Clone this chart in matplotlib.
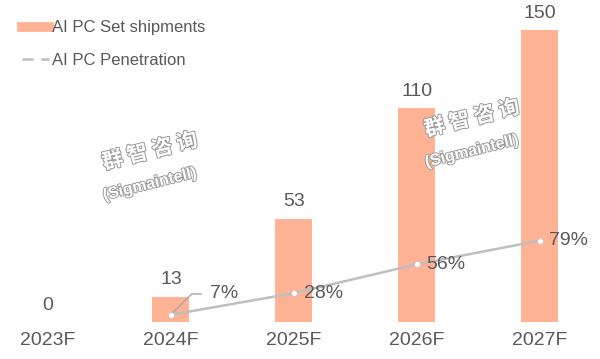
import matplotlib
matplotlib.use("Agg")
import matplotlib.pyplot as plt
import matplotlib.patheffects as pe
from matplotlib.lines import Line2D

years = ["2023F", "2024F", "2025F", "2026F", "2027F"]
shipments = [0, 13, 53, 110, 150]
penetration = [None, 7, 28, 56, 79]
pen_labels = ["", "7%", "28%", "56%", "79%"]

BAR = "#FFB294"
LINE = "#BFBFBF"
TXT = "#595959"

plt.rcParams["font.family"] = ["Liberation Sans", "DejaVu Sans"]

fig = plt.figure(figsize=(6, 3.59), dpi=100)
ax = fig.add_axes([0, 37 / 359, 1, 322 / 359])
x = list(range(len(years)))
ax.bar(x, shipments, width=0.3, color=BAR, zorder=2)
ax.set_xlim(-0.39, 4.49)
ax.set_ylim(0, 165.4)
for s in ax.spines.values():
    s.set_visible(False)
ax.set_yticks([])
ax.set_xticks(x)
ax.set_xticklabels(years, fontsize=14, color=TXT)
ax.tick_params(axis="x", length=0, pad=7)
for xi, v in zip(x, shipments):
    ax.annotate(f"{v}", (xi, v), xytext=(0, 6), textcoords="offset points",
                ha="center", va="bottom", fontsize=14, color=TXT)

ax2 = ax.twinx()
ax2.set_ylim(0, 312.6)
ax2.set_yticks([])
for s in ax2.spines.values():
    s.set_visible(False)
px = [xi for xi, p in zip(x, penetration) if p is not None]
py = [p for p in penetration if p is not None]
ax2.plot(px, py, color=LINE, lw=1.8, zorder=3)
ax2.scatter(px, py, s=18, color="white", edgecolor=LINE, lw=0.5, zorder=4)
for xi, p, lab in zip(x, penetration, pen_labels):
    if p is None:
        continue
    if lab == "7%":
        ax2.annotate(lab, (xi, p), xytext=(28, 15), textcoords="offset points",
                     ha="left", va="center", fontsize=14, color=TXT,
                     arrowprops=dict(arrowstyle="-", color="#A6A6A6", lw=1,
                                     connectionstyle="angle,angleA=0,angleB=45,rad=0",
                                     shrinkA=4, shrinkB=2))
    else:
        ax2.annotate(lab, (xi, p), xytext=(7, 0), textcoords="offset points",
                     ha="left", va="center", fontsize=14, color=TXT)

# watermarks
wm = [pe.withStroke(linewidth=1.4, foreground="#9A9A9A")]
for cx, cy in [(150, 165), (472, 132)]:
    fig.text(cx / 600, 1 - (cy - 14) / 359, "群 智 咨 询", fontsize=15, rotation=14,
             ha="center", va="center", color="white", fontweight="bold",
             family=["Noto Sans CJK SC", "DejaVu Sans"], path_effects=wm, zorder=10)
    fig.text(cx / 600, 1 - (cy + 19) / 359, "(Sigmaintell)", fontsize=11.5, rotation=14,
             ha="center", va="center", color="white", fontweight="bold",
             path_effects=wm, zorder=10)

handles = [Line2D([], [], color=BAR, lw=7),
           Line2D([], [], color=LINE, lw=1.8, ls=(0, (4.5, 3)))]
fig.legend(handles, ["AI PC Set shipments", "AI PC Penetration"],
           loc="upper left", bbox_to_anchor=(0.012, 0.985), frameon=False,
           fontsize=12, labelcolor=TXT, handlelength=1.6, handletextpad=0.2,
           labelspacing=1.05)

fig.savefig("out.png", dpi=100)
